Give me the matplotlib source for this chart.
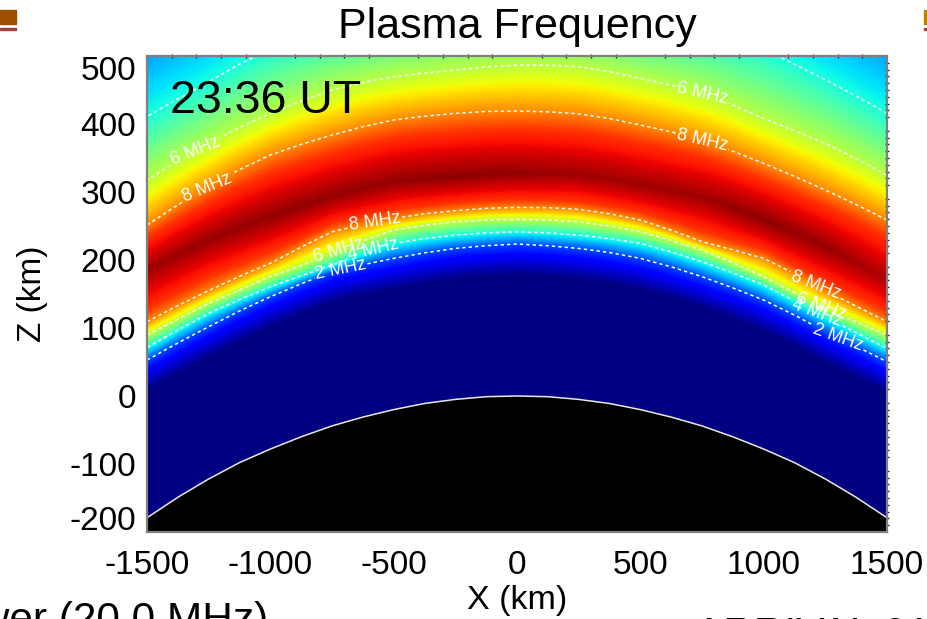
import numpy as np
import matplotlib
matplotlib.use("Agg")
import matplotlib.pyplot as plt
from matplotlib.patches import Rectangle
from matplotlib.transforms import ScaledTranslation

plt.rcParams['font.family'] = ['Liberation Sans', 'DejaVu Sans']
plt.rcParams['axes.unicode_minus'] = False

# stations along X (km), every 125 km
x_km = [-1500, -1375, -1250, -1125, -1000, -875, -750, -625, -500, -375, -250, -125, 0,
        125, 250, 375, 500, 625, 750, 875, 1000, 1125, 1250, 1375, 1500]

# height (km) of each frequency level at each station, bottom to top
z_floor = [-300] * 25
z_b0 = [8, 33, 57, 80, 101, 120, 138, 148, 157, 165.5, 172, 176, 178.5, 176, 172, 166, 157, 145, 130.5, 114, 96, 74, 49.6, 28, 5.5]
z_b1 = [33, 58, 82, 105, 126, 145, 163, 173, 182, 190.5, 197, 201, 203.5, 201, 197, 191, 182, 170, 155.5, 139, 121, 99, 74.6, 53, 30.5]
z_b2 = [52.9, 78, 101.9, 125, 146, 165, 182.8, 193, 202.4, 210.5, 217.1, 221, 223.5, 221, 217, 211, 202.4, 190, 175.5, 159, 141.1, 119, 94.6, 73, 50.5]
z_b4 = [71.5, 97, 121.5, 142, 160.8, 177, 192.6, 210, 224.5, 231.5, 236.7, 240, 241.6, 240, 236.7, 231.5, 224.5, 212, 197.5, 181, 163.2, 140, 116.6, 93, 70]
z_b6 = [89.7, 113, 136.2, 156, 175.5, 192, 209.8, 228, 244.1, 251, 256.3, 259, 259.8, 259, 256.3, 250, 241.6, 229, 214.7, 196, 175.5, 152, 128.9, 109, 89.7]
z_b8 = [109.3, 133, 155, 176, 195.1, 219, 241.6, 252, 261.2, 268, 272.5, 276, 277.4, 277, 274.5, 268, 258.8, 244, 227, 215, 202.4, 180, 155, 132, 109.3]
z_b9 = [128.3, 152, 176, 194, 212.3, 233, 254.5, 265, 274.7, 280, 285, 288, 290, 289, 287, 280, 271.7, 258, 243.5, 230, 216.5, 193, 170, 148, 124.6]
z_peak = [185.3, 208, 229.4, 247, 263.7, 279, 293.1, 305, 315.2, 319.5, 322.5, 325.5, 327.4, 327, 325, 319, 310.3, 302, 293.1, 277, 258.8, 240, 219.6, 196, 170.6]
z_t9 = [231.6, 259, 284.3, 307, 327.2, 343, 356.6, 368.5, 378.7, 384, 387.7, 390.5, 391.6, 390.5, 388, 381, 372, 362.5, 351.4, 335.5, 317.1, 298, 277.9, 256, 232.3]
z_t8 = [251.4, 281, 307.8, 333, 354.4, 370, 383.8, 396, 405.9, 411.5, 415.7, 418.5, 419.1, 418, 415, 408, 398.5, 388.5, 376.4, 360, 342.1, 323, 302.9, 281.5, 258.8]
z_t6 = [317.6, 346, 371.5, 395, 415.7, 434, 450, 461, 469.6, 475, 479.4, 484, 486.7, 486.5, 484.3, 477, 467.1, 457, 445.1, 428, 408.3, 390, 371.5, 349, 325]
z_t4 = [411, 437, 462, 488, 510, 523, 535, 542, 548, 557, 565, 571, 575, 571, 565, 557, 548, 542, 535, 523, 510, 488, 465, 441, 416]
z_t3 = [496, 522, 547, 573, 595, 608, 620, 627, 633, 642, 650, 656, 660, 656, 650, 642, 633, 627, 620, 608, 595, 573, 550, 526, 501]

# peak plasma frequency (MHz) along the ridge
f_peak = [10.2, 10.22, 10.25, 10.28, 10.3, 10.3, 10.3, 10.3, 10.3, 10.32, 10.35, 10.32, 10.3,
          10.25, 10.2, 10.2, 10.2, 10.2, 10.2, 10.28, 10.35, 10.3, 10.25, 10.15, 10.05]

# earth surface height (km)
z_earth = [-179, -149, -122, -98, -78, -60, -44, -31, -20, -11, -5, -1, 0,
           -1, -5, -11, -20, -31, -44, -60, -78, -98, -122, -149, -179]

contour_levels = [2, 4, 6, 8]
# label anchors per level (x km, z km)
label_pos = {
    2: [(-717, 193), (1309, 97)],
    4: [(-583, 219), (1228, 137)],
    6: [(-1305, 362), (-730, 225), (754, 454), (1248, 151)],
    8: [(-1257, 306), (-575, 256), (754, 387), (1216, 170)],
}

x_ticks = [-1500, -1000, -500, 0, 500, 1000, 1500]
z_ticks = [-200, -100, 0, 100, 200, 300, 400, 500]

rows = [z_floor, z_b0, z_b1, z_b2, z_b4, z_b6, z_b8, z_b9, z_peak, z_t9, z_t8, z_t6, z_t4, z_t3]
row_freq = [0, 0, 1, 2, 4, 6, 8, 9, None, 9, 8, 6, 4, 3]

Z = np.array(rows, dtype=float)
X = np.tile(np.array(x_km, dtype=float), (len(rows), 1))
F = np.array([f_peak if f is None else [f] * 25 for f in row_freq], dtype=float)

fig = plt.figure(figsize=(9.28, 6.19), dpi=100)
ax = fig.add_axes([147 / 928, 1 - 532 / 619, 740 / 928, 476 / 619])
ax.set_facecolor('#000080')

ax.contourf(X, Z, F, levels=np.linspace(0, 10.5, 421), cmap='jet', vmin=0, vmax=10.5, antialiased=False)

for lv in contour_levels:
    cs = ax.contour(X, Z, F, levels=[lv], colors='white', linewidths=1.1, linestyles=[(0, (2.2, 2))])
    ax.clabel(cs, fmt='%d MHz', manual=label_pos[lv], inline=True, inline_spacing=1, fontsize=13, colors='white')

ax.fill_between(x_km, -300, z_earth, color='black', zorder=3)
ax.plot(x_km, z_earth, color='#e8e8e8', lw=1.1, zorder=4)

ax.set_xlim(-1500, 1500)
ax.set_ylim(-200, 500)
ax.set_xticks(x_ticks)
ax.set_yticks(z_ticks)
ax.set_xticks(np.arange(-1500, 1501, 100), minor=True)
ax.set_yticks(np.arange(-200, 501, 10), minor=True)
ax.tick_params(axis='x', which='major', length=0, labelsize=24, pad=13, top=True)
ax.tick_params(axis='x', which='minor', length=2.5, bottom=False, top=True, direction='inout', color='#222222', width=1)
ax.tick_params(axis='y', which='major', length=0, labelsize=24, pad=8)
ax.tick_params(axis='y', which='minor', length=2.5, left=False, right=True, direction='inout', color='#222222', width=1)
for sp in ax.spines.values():
    sp.set_color('#808080')
    sp.set_linewidth(1.6)
    sp.set_zorder(6)

# end labels stay inside the axis range
ylabels = ax.get_yticklabels()
ylabels[0].set_verticalalignment('bottom')
ylabels[0].set_transform(ylabels[0].get_transform() + ScaledTranslation(0, -0.05, fig.dpi_scale_trans))
ylabels[-1].set_verticalalignment('top')

ax.text(-1405, 434, '23:36 UT', fontsize=33.5, color='black', va='center', ha='left', zorder=7)

fig.text(517 / 928, 1 - 27 / 619, 'Plasma Frequency', fontsize=31, ha='center', va='center')
fig.text(517 / 928, 1 - 601 / 619, 'X (km)', fontsize=24.5, ha='center', va='center')
fig.text(33 / 928, 1 - 294 / 619, 'Z (km)', fontsize=24, rotation=90, ha='center', va='center')
fig.text(268 / 928, 1 - 632 / 619, 'Power (20.0 MHz)', fontsize=30.5, ha='right', va='baseline')
fig.text(695 / 928, 1 - 647 / 619, 'ARRIVAL 01', fontsize=30.5, ha='left', va='baseline')

# slide decoration at the top corners
for x0, w, col in [(0, 16, '#A04E00'), (924, 4, '#C08000')]:
    fig.add_artist(Rectangle((x0 / 928, 1 - 24 / 619), w / 928, 14 / 619, color=col, transform=fig.transFigure))
    fig.add_artist(Rectangle((x0 / 928, 1 - 30 / 619), w / 928, 2 / 619, color='#A04040', transform=fig.transFigure))

fig.savefig('out.png', dpi=100)
